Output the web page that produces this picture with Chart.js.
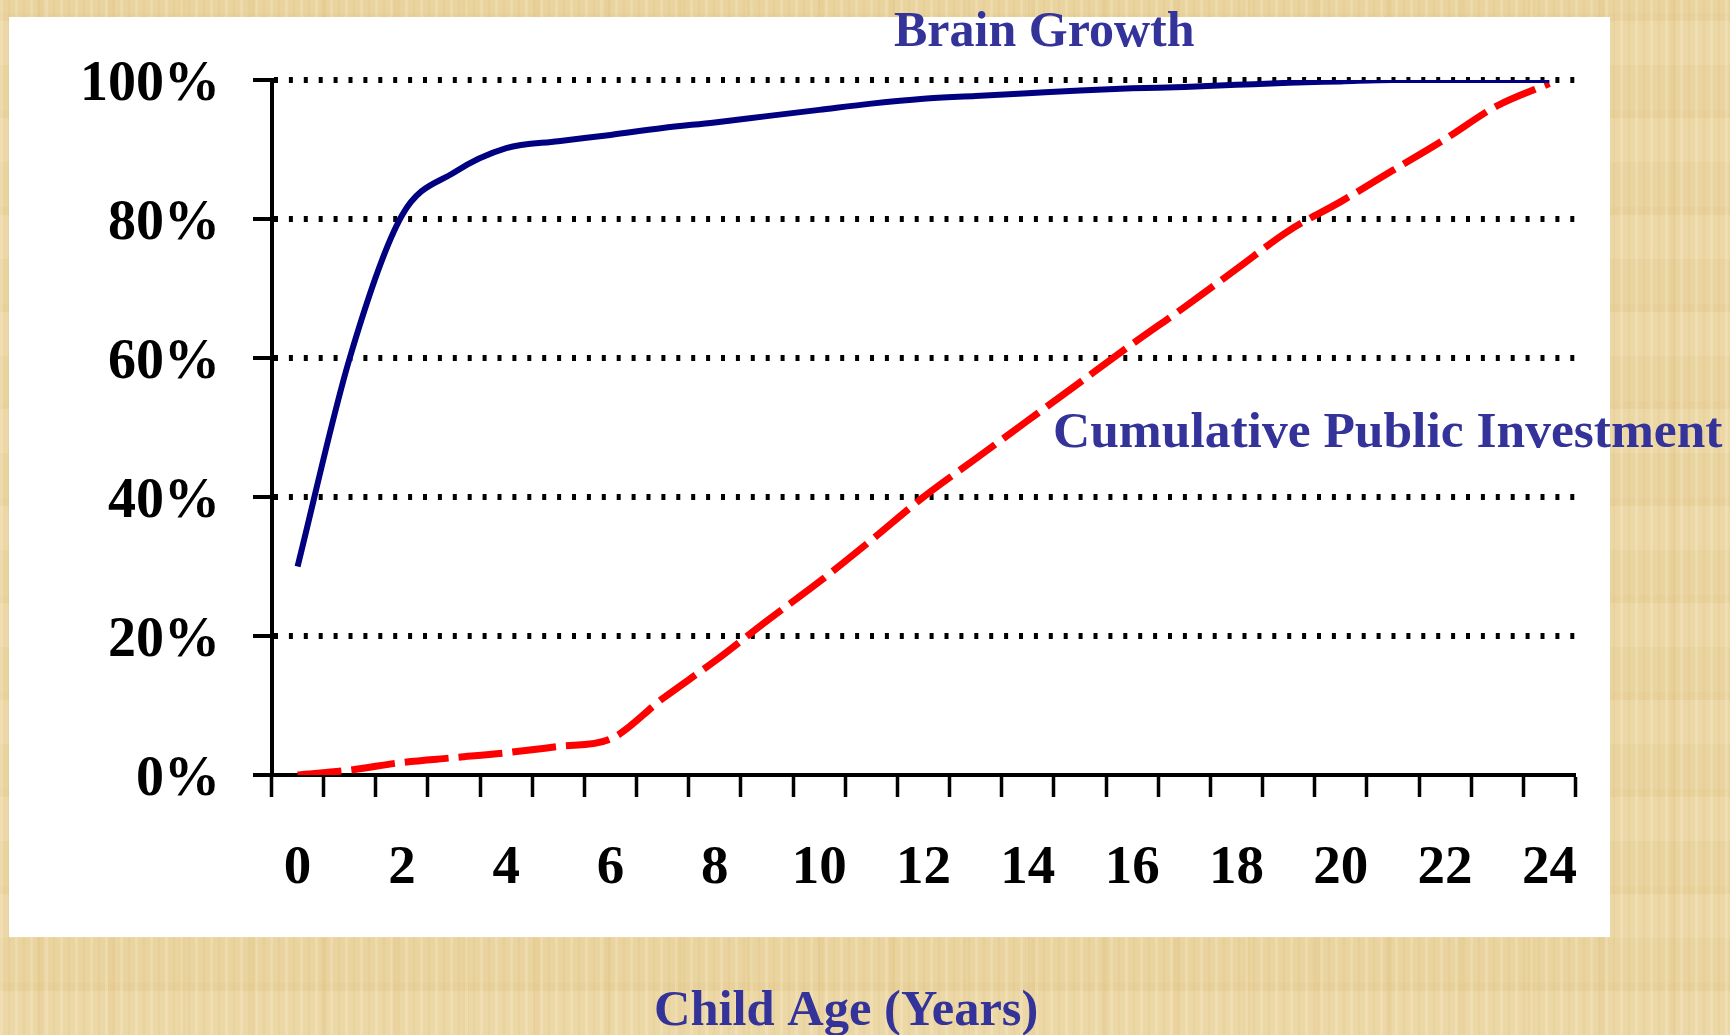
<!DOCTYPE html>
<html>
<head>
<meta charset="utf-8">
<script src="https://cdn.jsdelivr.net/npm/chart.js@4/dist/chart.umd.min.js"></script>
<style>
  html, body { margin: 0; padding: 0; }
  body {
    width: 1730px;
    height: 1035px;
    overflow: hidden;
    background-color: #e9d39f;
    background-image:
      repeating-linear-gradient(90deg, rgba(255,246,222,0.22) 0 3px, rgba(0,0,0,0) 3px 8px, rgba(205,168,90,0.10) 8px 10px, rgba(0,0,0,0) 10px 15px),
      repeating-linear-gradient(90deg, rgba(0,0,0,0) 0 37px, rgba(218,180,100,0.12) 37px 43px, rgba(0,0,0,0) 43px 71px),
      repeating-linear-gradient(0deg, rgba(255,242,210,0.14) 0 44px, rgba(212,176,100,0.08) 44px 52px, rgba(0,0,0,0) 52px 97px);
  }
  #wrap { position: absolute; left: 0; top: 0; width: 1730px; height: 1035px; }
</style>
</head>
<body>
<div id="wrap"><canvas id="myChart"></canvas></div>
<script>
// child age in years
const ages = ["0", "1", "2", "3", "4", "5", "6", "7", "8", "9", "10", "11", "12",
  "13", "14", "15", "16", "17", "18", "19", "20", "21", "22", "23", "24"];

// % of brain growth reached
const brainGrowth = [30, 60, 80.5, 86.7, 90.2, 91.2, 92.1, 93.1, 93.9, 94.8, 95.7, 96.6, 97.3,
  97.7, 98.1, 98.5, 98.8, 99.0, 99.3, 99.6, 99.8, 100, 100, 100, 100];

// % of cumulative public investment
const publicInvestment = [0, 0.7, 1.8, 2.5, 3.2, 4.1, 5.2, 11, 16.4, 22.2, 27.8, 33.8, 40,
  45.5, 51, 56.5, 62, 67.3, 72.8, 78.3, 82.5, 87, 91.5, 96.3, 99.5];

const yMin = 0;
const yMax = 100;
const yStep = 20;

const serif = '"Liberation Serif", "Times New Roman", serif';
const textBlue = "#333399";

// white panel + the slide texts
const slidePlugin = {
  id: "slide",
  beforeDraw(chart) {
    const ctx = chart.ctx;
    ctx.save();
    ctx.fillStyle = "#ffffff";
    ctx.fillRect(9, 17, 1601, 920);
    ctx.restore();
  },
  afterDraw(chart) {
    const ctx = chart.ctx;
    ctx.save();
    ctx.fillStyle = textBlue;
    ctx.textAlign = "left";
    ctx.textBaseline = "alphabetic";
    ctx.font = "bold 50px " + serif;
    ctx.fillText("Brain Growth", 894, 46);
    ctx.font = "bold 51.5px " + serif;
    ctx.fillText("Cumulative Public Investment", 1053, 447);
    ctx.font = "bold 50.5px " + serif;
    ctx.fillText("Child Age (Years)", 654, 1025);
    ctx.restore();
  }
};

const ctx = document.getElementById("myChart");

new Chart(ctx, {
  type: "line",
  data: {
    labels: ages,
    datasets: [
      {
        label: "Brain Growth",
        data: brainGrowth,
        borderColor: "#000080",
        borderWidth: 6,
        pointRadius: 0,
        cubicInterpolationMode: "monotone",
        fill: false,
      },
      {
        label: "Cumulative Public Investment",
        data: publicInvestment,
        borderColor: "#ff0000",
        borderWidth: 7,
        borderDash: [44, 10],
        pointRadius: 0,
        cubicInterpolationMode: "monotone",
        fill: false,
      },
    ],
  },
  options: {
    responsive: true,
    maintainAspectRatio: false,
    animation: false,
    devicePixelRatio: 1,
    layout: {
      padding: { left: 0, top: 80, right: 154.5, bottom: 0 },
    },
    plugins: {
      legend: { display: false },
      tooltip: { enabled: false },
    },
    scales: {
      x: {
        type: "category",
        offset: true,
        grid: {
          display: true,
          drawOnChartArea: false,
          offset: true,
          color: "#000",
          tickColor: "#000",
          tickLength: 22,
          tickWidth: 3.5,
        },
        border: { display: true, color: "#000", width: 4 },
        ticks: {
          autoSkip: false,
          maxRotation: 0,
          color: "#000",
          padding: 44,
          font: { family: serif, size: 55, weight: "bold", lineHeight: 1 },
          callback: function (value, index) {
            return index % 2 === 0 ? this.getLabelForValue(value) : "";
          },
        },
        afterFit: (scale) => {
          scale.height = 260;
        },
      },
      y: {
        min: yMin,
        max: yMax,
        grid: {
          color: "#000",
          // no dotted line on top of the x axis
          lineWidth: (c) => (c.index === 0 ? 0 : 6),
          tickColor: "#000",
          tickLength: 18.5,
          tickWidth: 4,
        },
        border: { display: true, color: "#000", width: 4, dash: [4, 10.9] },
        ticks: {
          stepSize: yStep,
          color: "#000",
          padding: 33,
          labelOffset: 6,
          font: { family: serif, size: 56, weight: "bold", lineHeight: 1 },
          callback: (v) => v + "%",
        },
        afterFit: (scale) => {
          scale.width = 271.5;
        },
      },
    },
  },
  plugins: [slidePlugin],
});
</script>
</body>
</html>
